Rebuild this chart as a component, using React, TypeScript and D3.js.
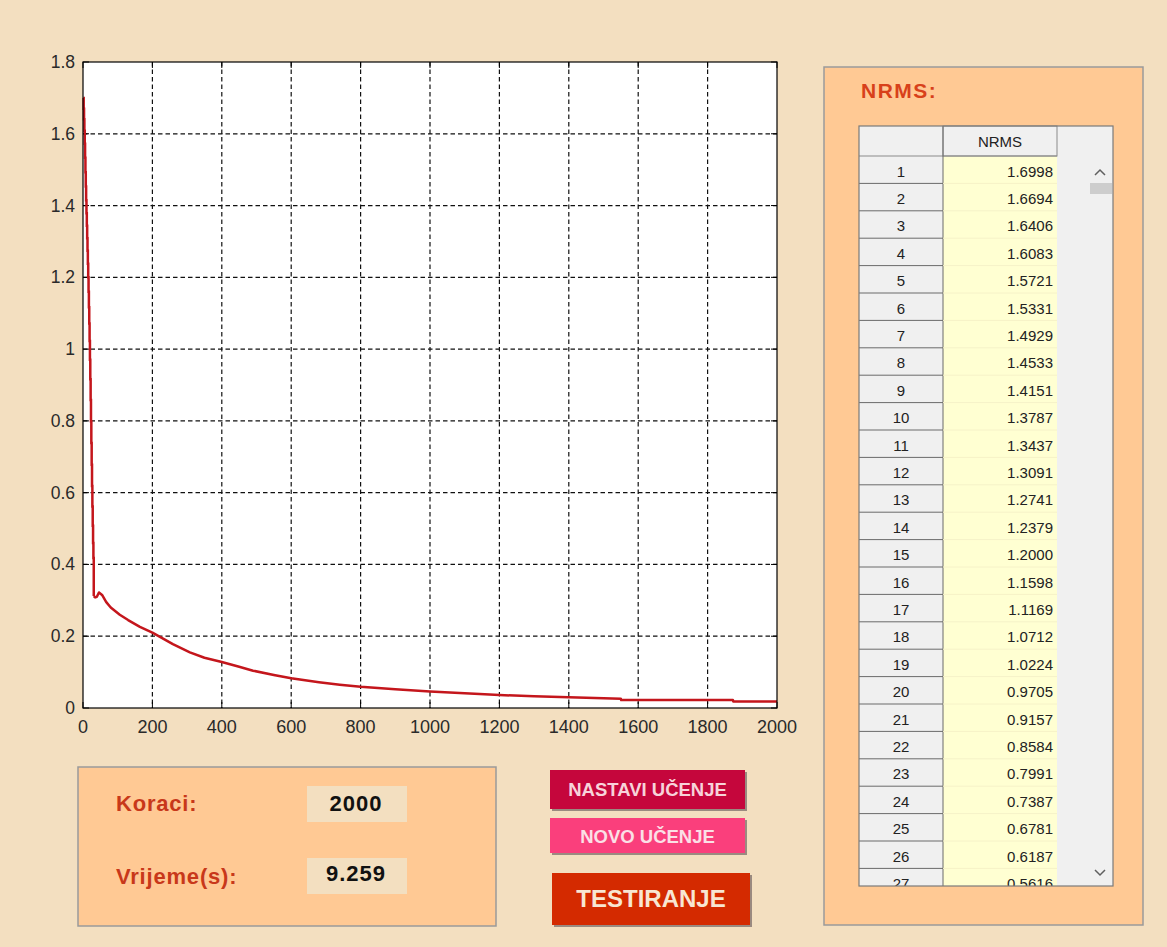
import React from "react";
import * as d3 from "d3";

// ---- Data ----
const tableRows = [1,2,3,4,5,6,7,8,9,10,11,12,13,14,15,16,17,18,19,20,21,22,23,24,25,26,27];
const tableNrms = [1.6998,1.6694,1.6406,1.6083,1.5721,1.5331,1.4929,1.4533,1.4151,1.3787,1.3437,1.3091,1.2741,1.2379,1.2000,1.1598,1.1169,1.0712,1.0224,0.9705,0.9157,0.8584,0.7991,0.7387,0.6781,0.6187,0.5616];

const laterSteps = [28,29,30,31,35,40,46,55,67,80,106,130,164,200,259,308,350,400,450,490,550,600,680,740,800,900,1000,1100,1200,1300,1400,1550,1551,1873,1874,2000];
const laterNrms = [0.508,0.46,0.418,0.312,0.308,0.31,0.322,0.315,0.295,0.28,0.26,0.245,0.226,0.21,0.178,0.155,0.14,0.128,0.115,0.104,0.092,0.083,0.072,0.065,0.059,0.052,0.046,0.041,0.036,0.033,0.03,0.026,0.022,0.022,0.018,0.018];

const xTicks = [0,200,400,600,800,1000,1200,1400,1600,1800,2000];
const yTicks = [0,0.2,0.4,0.6,0.8,1,1.2,1.4,1.6,1.8];

const korakValue = "2000";
const vrijemeValue = "9.259";

const FONT = "'Liberation Sans', Arial, sans-serif";

export default function App() {
  const W = 1167, H = 947;
  const plot = { left: 83, right: 777, top: 62, bottom: 708 };
  const x = d3.scaleLinear().domain([0, 2000]).range([plot.left, plot.right]);
  const y = d3.scaleLinear().domain([0, 1.8]).range([plot.bottom, plot.top]);

  const pts: [number, number][] = [];
  tableRows.forEach((s, i) => pts.push([s, tableNrms[i]]));
  laterSteps.forEach((s, i) => pts.push([s, laterNrms[i]]));
  const line = d3.line<[number, number]>().x(d => x(d[0])).y(d => y(d[1])).curve(d3.curveStepAfter);
  const lineLin = d3.line<[number, number]>().x(d => x(d[0])).y(d => y(d[1]));
  const early = pts.filter(p => p[0] <= 31);
  const late = pts.filter(p => p[0] >= 31);

  const rowH = 27.4;
  const tX = 859, tY = 126, tHeadH = 30, col1 = 943, col2 = 1057, tRight = 1113, tBottom = 886;

  return (
    <svg width={W} height={H} style={{ position: "absolute", left: 0, top: 0, display: "block" }} fontFamily={FONT}>
      <rect x={0} y={0} width={W} height={H} fill="#f3dfc0" />
      {/* Plot */}
      <rect x={plot.left} y={plot.top} width={plot.right - plot.left} height={plot.bottom - plot.top} fill="#ffffff" />
      {xTicks.slice(1, -1).map(t => (
        <line key={"gx" + t} x1={x(t)} x2={x(t)} y1={plot.top} y2={plot.bottom} stroke="#111" strokeWidth={1.2} strokeDasharray="4.5,3" />
      ))}
      {yTicks.slice(1, -1).map(t => (
        <line key={"gy" + t} x1={plot.left} x2={plot.right} y1={y(t)} y2={y(t)} stroke="#111" strokeWidth={1.2} strokeDasharray="4.5,3" />
      ))}
      {xTicks.map(t => (
        <g key={"tx" + t}>
          <line x1={x(t)} x2={x(t)} y1={plot.bottom} y2={plot.bottom - 6} stroke="#000" />
          <line x1={x(t)} x2={x(t)} y1={plot.top} y2={plot.top + 6} stroke="#000" />
          <text x={x(t)} y={plot.bottom + 25} textAnchor="middle" fontSize={18} fill="#2a2a2a">{t}</text>
        </g>
      ))}
      {yTicks.map(t => (
        <g key={"ty" + t}>
          <line x1={plot.left} x2={plot.left + 6} y1={y(t)} y2={y(t)} stroke="#000" />
          <line x1={plot.right} x2={plot.right - 6} y1={y(t)} y2={y(t)} stroke="#000" />
          <text x={plot.left - 8} y={y(t) + 6} textAnchor="end" fontSize={17.5} fill="#2a2a2a">{String(t)}</text>
        </g>
      ))}
      <path d={line(early) || ""} fill="none" stroke="#c4161c" strokeWidth={2.5} />
      <path d={lineLin(late) || ""} fill="none" stroke="#c4161c" strokeWidth={2.5} strokeLinejoin="round" />
      <rect x={plot.left} y={plot.top} width={plot.right - plot.left} height={plot.bottom - plot.top} fill="none" stroke="#000" strokeWidth={1.2} />

      {/* Bottom-left panel */}
      <rect x={78} y={767} width={418} height={159} fill="#ffc994" stroke="#9a9a9a" strokeWidth={1.5} />
      <text x={116} y={811} fontSize={22} fontWeight="bold" fill="#c8381a" letterSpacing={0.8}>Koraci:</text>
      <text x={116} y={884} fontSize={22} fontWeight="bold" fill="#c8381a" letterSpacing={0.8}>Vrijeme(s):</text>
      <rect x={307} y={786} width={100} height={36} fill="#f3dfc0" />
      <rect x={307} y={858} width={100} height={36} fill="#f3dfc0" />
      <text x={356} y={811} textAnchor="middle" fontSize={22} fontWeight="bold" fill="#111" letterSpacing={1}>{korakValue}</text>
      <text x={356} y={881} textAnchor="middle" fontSize={22} fontWeight="bold" fill="#111" letterSpacing={1}>{vrijemeValue}</text>

      {/* Buttons */}
      <rect x={552} y={772} width={195} height={39} fill="#9a8a80" />
      <rect x={550} y={770} width={195} height={39} fill="#c5063c" />
      <text x={647.5} y={796} textAnchor="middle" fontSize={18.5} fontWeight="bold" fill="#f7d3da">NASTAVI UČENJE</text>
      <rect x={552} y={820} width={195} height={35} fill="#9a8a80" />
      <rect x={550} y={818} width={195} height={35} fill="#fa3f7c" />
      <text x={647.5} y={843} textAnchor="middle" fontSize={18.5} fontWeight="bold" fill="#fbe0e6">NOVO UČENJE</text>
      <rect x={554} y={875} width={198} height={52} fill="#9a8a80" />
      <rect x={552} y={873} width={198} height={52} fill="#d42a00" />
      <text x={651} y={907} textAnchor="middle" fontSize={24} fontWeight="bold" fill="#f8e6d2">TESTIRANJE</text>

      {/* Right panel */}
      <rect x={824} y={67} width={319} height={858} fill="#ffc994" stroke="#9a9a9a" strokeWidth={1.5} />
      <text x={861} y={98} fontSize={21} fontWeight="bold" fill="#d8401a" letterSpacing={1.5}>NRMS:</text>
      <rect x={tX} y={tY} width={tRight - tX} height={tBottom - tY} fill="#f0f0f0" />
      <rect x={col1} y={tY + tHeadH} width={col2 - col1} height={tBottom - tY - tHeadH} fill="#ffffd2" />
      <rect x={tX} y={tY} width={col1 - tX} height={tHeadH} fill="#f0f0f0" />
      <rect x={col1} y={tY} width={col2 - col1} height={tHeadH} fill="#f0f0f0" stroke="#8a8a8a" />
      <text x={(col1 + col2) / 2} y={tY + 21} textAnchor="middle" fontSize={15} fill="#222">NRMS</text>
      <line x1={tX} x2={col2} y1={tY + tHeadH} y2={tY + tHeadH} stroke="#8a8a8a" />
      <line x1={col1} x2={col1} y1={tY} y2={tBottom} stroke="#6a6a6a" />
      <defs>
        <clipPath id="tclip">
          <rect x={tX} y={tY + tHeadH} width={tRight - tX} height={tBottom - tY - tHeadH} />
        </clipPath>
      </defs>
      <g clipPath="url(#tclip)">
        {tableRows.map((r, i) => {
          const top = tY + tHeadH + i * rowH;
          return (
            <g key={"rt" + r}>
              <line x1={tX} x2={col1} y1={top + rowH} y2={top + rowH} stroke="#6a6a6a" />
              <line x1={col1} x2={col2} y1={top + rowH} y2={top + rowH} stroke="#f6f2c8" />
              <text x={(tX + col1) / 2} y={top + 20.5} textAnchor="middle" fontSize={15} fill="#222">{r}</text>
              <text x={col2 - 4} y={top + 20.5} textAnchor="end" fontSize={15} fill="#222">{tableNrms[i].toFixed(4)}</text>
            </g>
          );
        })}
      </g>
      {/* Scrollbar */}
      <path d="M1095,175 L1100,170 L1105,175" fill="none" stroke="#606060" strokeWidth={1.5} />
      <rect x={1090} y={183} width={22} height={11} fill="#cdcdcd" />
      <path d="M1095,870 L1100,875 L1105,870" fill="none" stroke="#606060" strokeWidth={1.5} />
      <rect x={tX} y={tY} width={tRight - tX} height={tBottom - tY} fill="none" stroke="#7a7a7a" strokeWidth={1.2} />
    </svg>
  );
}
